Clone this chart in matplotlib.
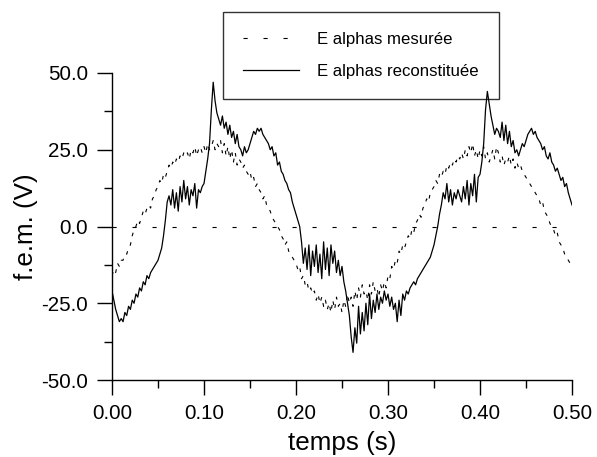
import numpy as np
import matplotlib
matplotlib.use("Agg")
import matplotlib.pyplot as plt
from matplotlib.lines import Line2D

plt.rcParams['font.family'] = ['Liberation Sans', 'DejaVu Sans']
plt.rcParams['lines.scale_dashes'] = False

# sampling times (s), one sample every 2 ms
temps = np.linspace(0.0, 0.5, 251)

mesuree = [
    -16, -14, -15, -12, -13, -11, -11, -9, -9, -7,
    -6, -3, -1, 0, 2, 1, 3, 5, 4, 6,
    7, 6, 9, 10, 12, 13, 15, 14, 17, 16,
    18, 20, 19, 21, 20, 22, 21, 23, 22, 24,
    23, 24, 22, 25, 24, 26, 23, 25, 26, 24,
    26, 24, 27, 25, 26, 28, 25, 27, 26, 28,
    24, 27, 23, 26, 22, 25, 21, 24, 20, 22,
    21, 19, 20, 18, 17, 18, 15, 16, 13, 14,
    12, 11, 9, 10, 7, 6, 5, 3, 2, 1,
    0, -1, -3, -4, -6, -5, -8, -9, -10, -11,
    -12, -14, -13, -17, -16, -19, -18, -21, -20, -22,
    -21, -24, -22, -25, -23, -26, -24, -27, -25, -28,
    -24, -27, -23, -26, -25, -28, -24, -26, -22, -25,
    -23, -26, -21, -24, -20, -23, -19, -22, -21, -24,
    -19, -22, -18, -21, -20, -23, -19, -21, -18, -20,
    -16, -17, -13, -14, -11, -12, -8, -9, -6, -7,
    -5, -3, -4, -1, -2, 1, 2, 4, 3, 6,
    7, 9, 8, 11, 12, 13, 15, 14, 17, 16,
    18, 17, 20, 19, 21, 20, 22, 21, 23, 22,
    24, 22, 25, 23, 26, 24, 27, 23, 25, 22,
    25, 23, 26, 22, 24, 21, 23, 25, 22, 26,
    24, 21, 23, 20, 22, 21, 23, 20, 22, 19,
    21, 19, 20, 18, 17, 16, 15, 14, 13, 12,
    11, 10, 9, 7, 8, 5, 4, 3, 1, 0,
    -1, -3, -2, -5, -6, -7, -9, -10, -11, -12,
    -13,
]

# E alphas reconstituee (V)
reconstituee = [
    -21, -24, -27, -29, -31, -30, -31, -28, -29, -26,
    -27, -24, -25, -22, -23, -20, -21, -18, -19, -16,
    -17, -15, -14, -13, -12, -11, -9, -7, -3, 2,
    8, 10, 7, 12, 6, 11, 5, 13, 8, 15,
    9, 13, 7, 12, 10, 14, 6, 12, 11, 13,
    14, 18, 22, 27, 38, 47, 41, 37, 35, 33,
    36, 32, 34, 30, 33, 29, 31, 27, 30, 26,
    25, 23, 26, 24, 25, 27, 29, 31, 30, 32,
    31, 32, 30, 29, 28, 27, 25, 26, 23, 24,
    20, 21, 18, 17, 15, 14, 12, 11, 8, 6,
    4, 2, 0, -5, -12, -7, -14, -6, -16, -8,
    -13, -6, -15, -9, -17, -5, -14, -7, -16, -6,
    -12, -8, -15, -11, -16, -13, -18, -21, -25, -29,
    -36, -41, -33, -38, -26, -35, -28, -34, -25, -32,
    -22, -30, -24, -28, -22, -27, -23, -25, -21, -24,
    -22, -26, -23, -27, -25, -31, -24, -29, -22, -24,
    -21, -22, -20, -19, -18, -19, -17, -16, -15, -14,
    -13, -12, -11, -10, -8, -6, -3, 0, 4, 7,
    11, 9, 14, 8, 12, 7, 11, 9, 12, 10,
    8, 13, 9, 15, 7, 14, 10, 17, 8, 16,
    17, 21, 27, 38, 44, 40, 36, 33, 30, 32,
    31, 29, 34, 28, 33, 27, 31, 26, 28, 24,
    25, 23, 25, 27, 26, 28, 30, 31, 32, 30,
    31, 29, 28, 27, 25, 26, 23, 22, 24, 21,
    20, 18, 19, 17, 15, 16, 13, 14, 11, 9,
    7,
]

x_ticks = [0.0, 0.1, 0.2, 0.3, 0.4, 0.5]
y_ticks = [-50, -25, 0, 25, 50]

zero_dash = (0, (3.0, 11.4))
curve_dash = (0, (2.6, 4.4))

fig = plt.figure(figsize=(5.97, 4.57), dpi=100)
ax = fig.add_axes([112 / 597, 1 - 380 / 457, 460 / 597, 307 / 457])

ax.plot([0.0, 0.5], [0, 0], color='black', lw=0.8, linestyle=zero_dash)
ax.plot(temps, mesuree, color='black', lw=0.8, linestyle=curve_dash)
ax.plot(temps, reconstituee, color='black', lw=0.9)

ax.set_xlim(0, 0.5)
ax.set_ylim(-50, 50)
ax.set_xticks(x_ticks)
ax.set_xticks([0.05, 0.15, 0.25, 0.35, 0.45], minor=True)
ax.set_yticks(y_ticks)
ax.set_yticks([-37.5, -12.5, 12.5, 37.5], minor=True)
ax.set_xticklabels([f"{v:.2f}" for v in x_ticks])
ax.set_yticklabels([f"{v:.1f}" for v in y_ticks])

for side in ['top', 'right']:
    ax.spines[side].set_visible(False)
for side in ['left', 'bottom']:
    ax.spines[side].set_linewidth(1.0)
ax.tick_params(which='major', direction='out', length=10.8, width=1.0,
               labelsize=14.8, pad=6.5)
ax.tick_params(which='minor', direction='out', length=5.8, width=1.0)

ax.set_xlabel('temps (s)', fontsize=18.7)
ax.set_ylabel('f.e.m. (V)', fontsize=18.7)
ax.xaxis.set_label_coords(0.5, -0.165)
ax.yaxis.set_label_coords(-0.161, 0.5)

handles = [
    Line2D([], [], color='black', lw=0.8, linestyle=zero_dash,
           label='E alphas mesurée'),
    Line2D([], [], color='black', lw=0.9, label='E alphas reconstituée'),
]
leg = ax.legend(handles=handles, loc='upper left',
                bbox_to_anchor=(223 / 597, 1 - 12 / 457),
                bbox_transform=fig.transFigure, borderaxespad=0,
                fontsize=12.1, frameon=True, fancybox=False,
                borderpad=1.2, labelspacing=1.0, handlelength=3.3,
                handletextpad=1.1)
leg.get_frame().set_edgecolor('black')
leg.get_frame().set_facecolor('none')
leg.get_frame().set_linewidth(1.0)

fig.savefig('out.png', dpi=100)
